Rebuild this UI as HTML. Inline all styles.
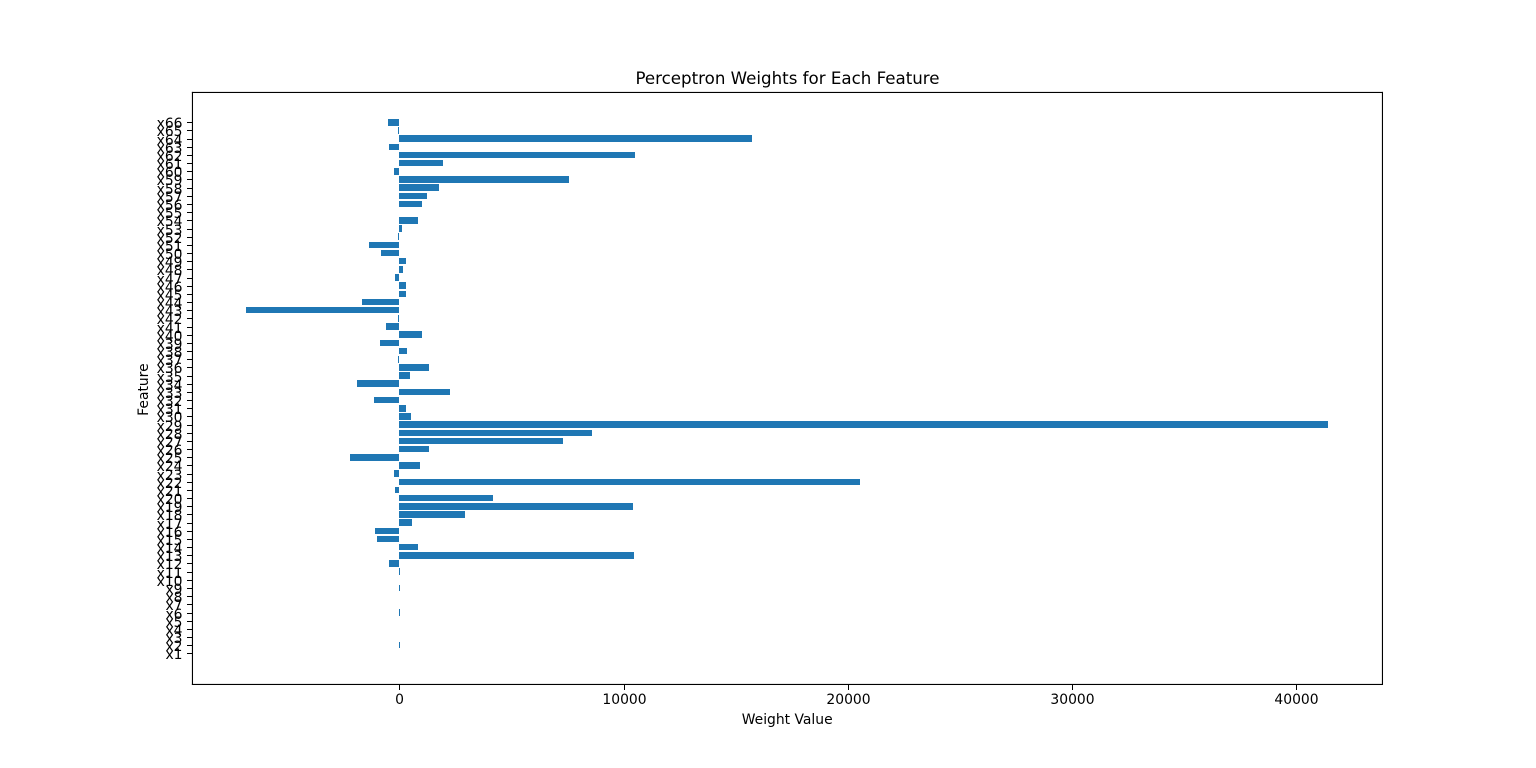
<!DOCTYPE html>
<html lang="en">
<head>
<meta charset="utf-8">
<title>Perceptron Weights for Each Feature</title>
<style>
html,body{margin:0;padding:0;background:#fff;}
svg{display:block;}
text{font-family:"DejaVu Sans","Liberation Sans",sans-serif;fill:#000;}
</style>
</head>
<body>
<svg id="chart" xmlns="http://www.w3.org/2000/svg" width="1536" height="768" viewBox="0 0 1536 768">
  <rect x="0" y="0" width="1536" height="768" fill="#ffffff"/>
  <g id="bars" shape-rendering="crispEdges"></g>
  <g id="frame" fill="#000">
    <rect x="191.9" y="91.9" width="1191.1" height="1.11"/>
    <rect x="191.9" y="683.9" width="1191.1" height="1.11"/>
    <rect x="191.9" y="91.9" width="1.11" height="593.1"/>
    <rect x="1381.9" y="91.9" width="1.11" height="593.1"/>
  </g>
  <g id="y-axis"></g>
  <g id="x-axis"></g>
  <text x="787.5" y="84" font-size="16.67" text-anchor="middle">Perceptron Weights for Each Feature</text>
  <text x="787.2" y="724" font-size="13.89" text-anchor="middle">Weight Value</text>
  <text transform="translate(148,389.6) rotate(-90)" font-size="13.89" text-anchor="middle">Feature</text>
</svg>
<script>
const categories = ["x1","x2","x3","x4","x5","x6","x7","x8","x9","x10","x11","x12","x13","x14","x15","x16","x17","x18","x19","x20","x21","x22","x23","x24","x25","x26","x27","x28","x29","x30","x31","x32","x33","x34","x35","x36","x37","x38","x39","x40","x41","x42","x43","x44","x45","x46","x47","x48","x49","x50","x51","x52","x53","x54","x55","x56","x57","x58","x59","x60","x61","x62","x63","x64","x65","x66"];
const weights = [0,20,0,0,0,20,0,0,20,0,30,-445,10480,847,-980,-1069,579,2941,10436,4188,-178,20560,-223,936,-2183,1337,7314,8608,41420,535,312,-1114,2272,-1871,490,1337,-50,356,-847,1025,-579,-50,-6830,-1649,312,312,-178,178,312,-802,-1337,-50,134,847,0,1025,1248,1782,7582,-223,1960,10525,-445,15745,-50,-490];
const xTickValues = [0,10000,20000,30000,40000];
const xTickLabels = ["0","10000","20000","30000","40000"];

const SVG_NS = "http://www.w3.org/2000/svg";
const plot = { left: 192, right: 1382.4, top: 92.16, bottom: 683.52 };
const barHeight = 0.8;

const dataMin = Math.min(0, ...weights);
const dataMax = Math.max(0, ...weights);
const xPad = (dataMax - dataMin) * 0.05;
const xLo = dataMin - xPad;
const xHi = dataMax + xPad;
const yDataLo = -barHeight / 2;
const yDataHi = categories.length - 1 + barHeight / 2;
const yPad = (yDataHi - yDataLo) * 0.05;
const yLo = yDataLo - yPad;
const yHi = yDataHi + yPad;

function xScale(v) {
  return plot.left + (v - xLo) / (xHi - xLo) * (plot.right - plot.left);
}
function yScale(i) {
  return plot.bottom - (i - yLo) / (yHi - yLo) * (plot.bottom - plot.top);
}
function make(tag, attrs) {
  const el = document.createElementNS(SVG_NS, tag);
  for (const k in attrs) el.setAttribute(k, attrs[k]);
  return el;
}

const barsGroup = document.getElementById("bars");
weights.forEach(function (w, i) {
  const x0 = Math.round(xScale(Math.min(0, w)));
  const x1 = Math.round(xScale(Math.max(0, w)));
  const y0 = Math.round(yScale(i + barHeight / 2));
  const y1 = Math.round(yScale(i - barHeight / 2));
  const bar = make("rect", { x: x0, y: y0, width: x1 - x0, height: y1 - y0, fill: "#1f77b4" });
  
  
  barsGroup.appendChild(bar);
});

const yAxis = document.getElementById("y-axis");
categories.forEach(function (c, i) {
  const ty = Math.round(yScale(i));
  const tick = make("rect", { x: 187, y: ty, width: 5, height: 1, fill: "#000", "shape-rendering": "crispEdges" });
  
  
  yAxis.appendChild(tick);
  const label = make("text", { x: 182.5, y: ty + 6, "font-size": "13.89", "text-anchor": "end" });
  label.textContent = c;
  
  
  yAxis.appendChild(label);
});

const xAxis = document.getElementById("x-axis");
xTickValues.forEach(function (v, i) {
  const tx = Math.round(xScale(v));
  const tick = make("rect", { x: tx, y: 684, width: 1, height: 6, fill: "#000", "shape-rendering": "crispEdges" });
  
  
  xAxis.appendChild(tick);
  const label = make("text", { x: tx + 0.5, y: 704, "font-size": "13.89", "text-anchor": "middle" });
  label.textContent = xTickLabels[i];
  
  
  xAxis.appendChild(label);
});
</script>
</body>
</html>
